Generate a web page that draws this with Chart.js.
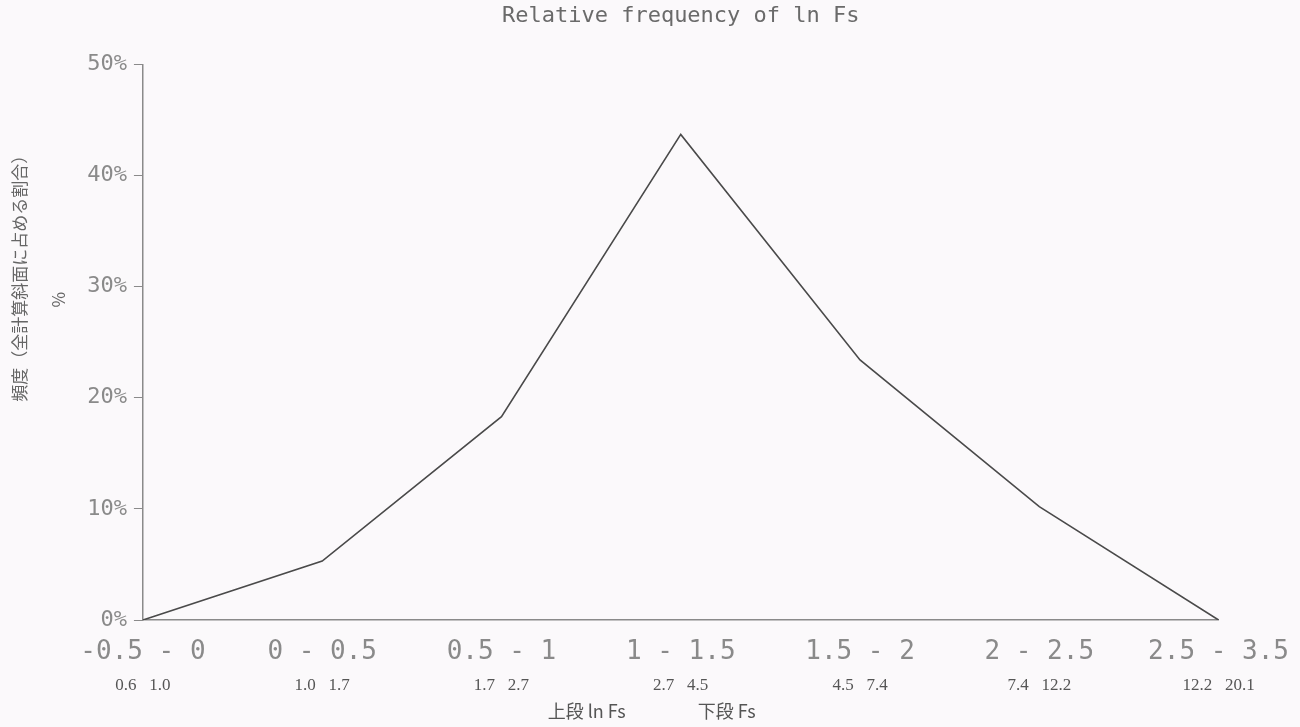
<!DOCTYPE html>
<html>
<head>
<meta charset="utf-8">
<script src="https://cdn.jsdelivr.net/npm/chart.js@4/dist/chart.umd.min.js"></script>
<style>
  html, body { margin: 0; padding: 0; background: #fbf9fb; }
  #wrap { width: 1300px; height: 727px; }
</style>
</head>
<body>
<div id="wrap"><canvas id="canvas"></canvas></div>
<script>
// upper row: ln Fs class, lower row: Fs range
var lnFsClasses = ['-0.5 - 0', '0 - 0.5', '0.5 - 1', '1 - 1.5', '1.5 - 2', '2 - 2.5', '2.5 - 3.5'];
var fsRanges = ['0.6   1.0', '1.0   1.7', '1.7   2.7', '2.7   4.5', '4.5   7.4', '7.4   12.2', '12.2   20.1'];
var relFreq = [0, 5.3, 18.3, 43.7, 23.4, 10.2, 0];
var yTicks = [0, 10, 20, 30, 40, 50];

window.onload = function() {
  var ctx = document.getElementById('canvas').getContext('2d');
  window.myLine = new Chart(ctx, {
    type: 'line',
    data: {
      labels: lnFsClasses,
      datasets: [{
        label: 'ln Fs',
        data: relFreq,
        xAxisID: 'x',
        borderColor: '#4a4a4a',
        borderWidth: 1.6,
        pointRadius: 0,
        tension: 0,
        fill: false
      }]
    },
    options: {
      responsive: true,
      maintainAspectRatio: false,
      animation: false,
      layout: { padding: { top: 3, right: 81, bottom: 0, left: 0 } },
      plugins: {
        legend: { display: false },
        tooltip: { enabled: false },
        title: {
          display: true,
          fullSize: false,
          text: 'Relative frequency of ln Fs',
          color: '#6a6a6a',
          font: { family: 'DejaVu Sans Mono', size: 22, weight: 'normal' },
          padding: { top: 0, bottom: 35 }
        }
      },
      scales: {
        x: {
          type: 'category',
          position: 'bottom',
          grid: { display: false },
          border: { display: true, color: '#8a8a8a', width: 1.5 },
          ticks: {
            color: '#8a8a8a',
            font: { family: 'DejaVu Sans Mono', size: 26, lineHeight: 1 },
            maxRotation: 0,
            autoSkip: false,
            padding: 11
          }
        },
        x2: {
          type: 'category',
          position: 'bottom',
          labels: fsRanges,
          grid: { display: false, drawTicks: false },
          border: { display: false },
          ticks: {
            color: '#555',
            font: { family: 'Liberation Serif', size: 17, lineHeight: 1 },
            maxRotation: 0,
            autoSkip: false,
            padding: 1
          },
          title: {
            display: true,
            text: '上段 ln Fs　　　　下段 Fs　　　 ',
            color: '#555',
            font: { family: 'Noto Sans CJK JP', size: 18, lineHeight: 1 },
            padding: { top: 7, bottom: 7 }
          }
        },
        y: {
          min: 0,
          max: 50,
          afterBuildTicks: function(axis) {
            axis.ticks = yTicks.map(function(v) { return { value: v }; });
          },
          grid: { display: true, drawOnChartArea: false, drawTicks: true, tickLength: 9, color: '#8a8a8a' },
          border: { display: true, color: '#8a8a8a', width: 1.5 },
          ticks: {
            color: '#8a8a8a',
            font: { family: 'DejaVu Sans Mono', size: 22 },
            padding: 7,
            callback: function(v) { return v + '%'; }
          },
          title: {
            display: true,
            text: ['　　　　　　　　頻度（全計算斜面に占める割合）', '　　　　　%'],
            color: '#666',
            font: { family: 'Noto Sans CJK JP', size: 17, lineHeight: 2.3 },
            padding: { top: 0, bottom: 2 }
          }
        }
      }
    }
  });
};
</script>
</body>
</html>
